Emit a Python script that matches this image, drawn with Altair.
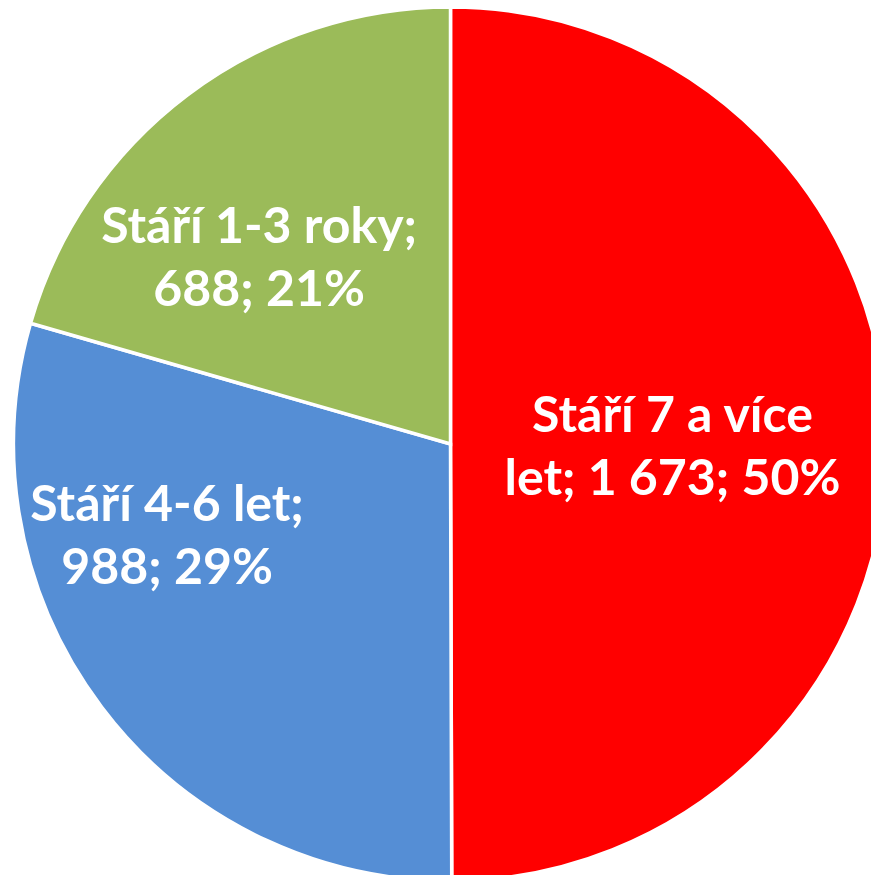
import altair as alt
import pandas as pd

# Data
categories = ["Stáří 7 a více let", "Stáří 4-6 let", "Stáří 1-3 roky"]
values = [1673, 988, 688]
label_text = [
    "Stáří 7 a více\nlet; 1 673; 50%",
    "Stáří 4-6 let;\n988; 29%",
    "Stáří 1-3 roky;\n688; 21%",
]
colors = ["#FF0000", "#558ED5", "#9BBB59"]

df = pd.DataFrame({
    "idx": list(range(len(categories))),
    "category": categories,
    "value": values,
    "label": label_text,
})

CX, CY, R = 442.5, 436, 437

base = alt.Chart(df)

arc = base.mark_arc(outerRadius=R, stroke="white", strokeWidth=3.5).encode(
    theta=alt.Theta("value:Q", stack=True),
    color=alt.Color("category:N", scale=alt.Scale(domain=categories, range=colors), legend=None),
    order=alt.Order("idx:Q"),
    x=alt.value(CX),
    y=alt.value(CY),
)

label_base = base.transform_window(
    cum="sum(value)", sort=[alt.SortField("idx")], frame=[None, 0]
).transform_calculate(mid="datum.cum - datum.value / 2")

# per-label placement (radius, dx, dy) like Excel's best-fit labels
placements = [(222, 0, -27), (290, -52, -113), (265, -32, -4)]

layers = [arc]
for i, (rad, ddx, ddy) in enumerate(placements):
    layers.append(
        label_base.transform_filter(alt.datum.idx == i).mark_text(
            radius=rad, dx=ddx, dy=ddy, font="Lato", fontWeight="bold",
            fontSize=50, lineHeight=63, color="white", lineBreak="\n",
            align="center", baseline="middle",
        ).encode(
            theta=alt.Theta("mid:Q", stack=False),
            text="label:N",
            x=alt.value(CX),
            y=alt.value(CY),
        )
    )

chart = alt.layer(*layers).properties(
    width=863, height=867, padding=0,
    autosize=alt.AutoSizeParams(type="none"),
).configure_view(stroke=None)

chart.save("out.html", embed_options={"renderer": "svg", "actions": False})
